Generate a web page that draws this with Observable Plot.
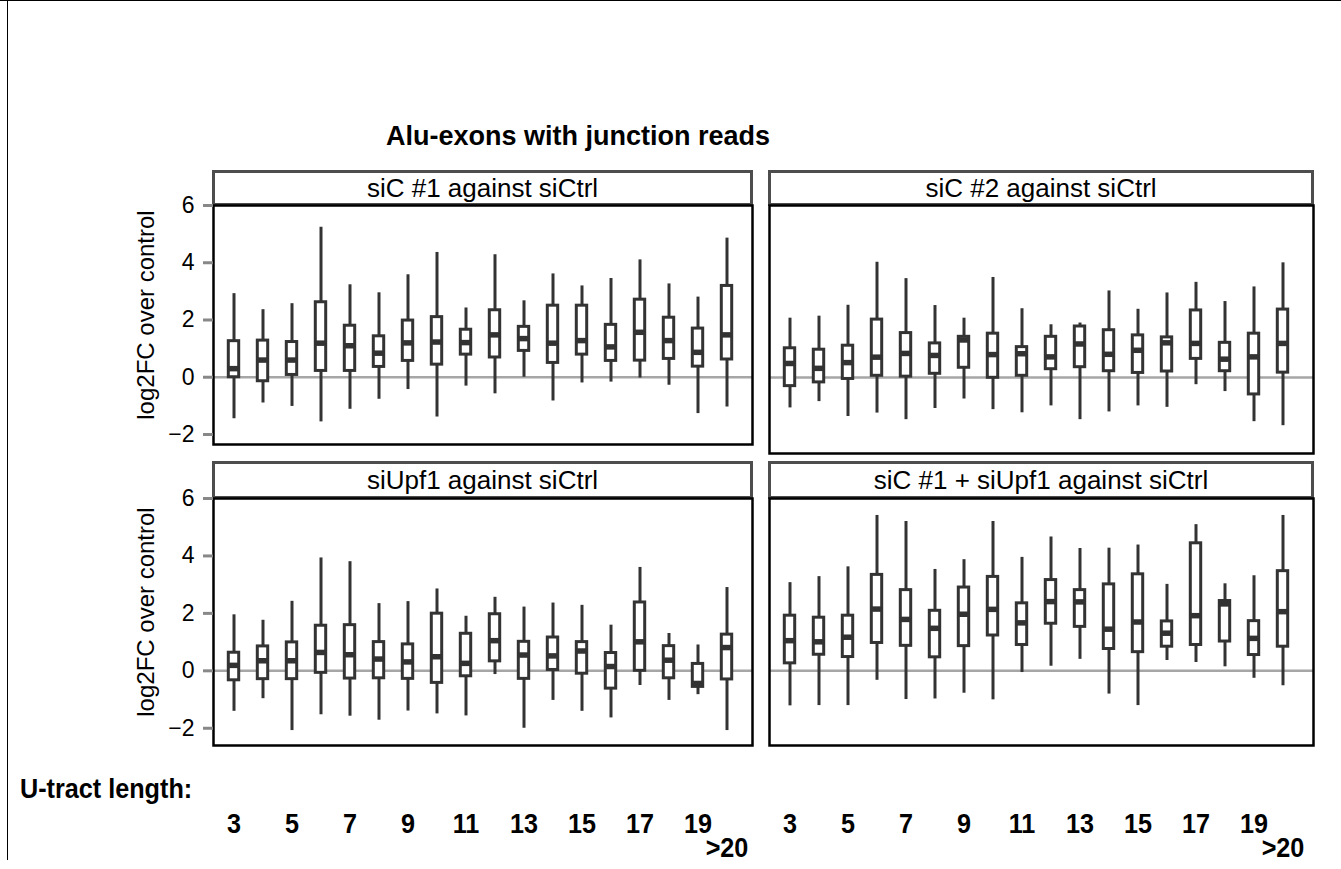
<!DOCTYPE html>
<html>
<head>
<meta charset="utf-8">
<script src="https://cdn.jsdelivr.net/npm/d3@7"></script>
<script src="https://cdn.jsdelivr.net/npm/@observablehq/plot@0.6"></script>
<style>
  body { margin: 0; background: #fff; font-family: "Liberation Sans", Arial, Helvetica, sans-serif; color: #000; }
  #page { position: relative; width: 1341px; height: 869px; overflow: hidden; background: #fff; }
  .edgeTop { position: absolute; left: 0; top: 0; width: 1341px; height: 0; border-top: 1.5px solid #000; }
  .edgeLeft { position: absolute; left: 7px; top: 0; width: 0; height: 860px; border-left: 1.5px solid #000; }
  .title { position: absolute; left: 0; width: 1156px; top: 121px; text-align: center; font-weight: bold; font-size: 27px; line-height: 31px; }
  .strip { position: absolute; box-sizing: border-box; border: 3px solid #4d4d4d; background: #fff; font-size: 26px; text-align: center; }
  .panel { position: absolute; }
  .xtitle { position: absolute; left: 20px; top: 773px; font-weight: bold; font-size: 28px; line-height: 32px;
            transform: scaleX(0.9); transform-origin: left center; }
</style>
</head>
<body>
<div id="page">
  <div class="edgeTop"></div>
  <div class="edgeLeft"></div>
  <div class="title">Alu-exons with junction reads</div>
  <div class="xtitle">U-tract length:</div>
</div>
<script>
// U-tract length categories (20 = ">20")
const uLengths = [3,4,5,6,7,8,9,10,11,12,13,14,15,16,17,18,19,20];
const oddTicks = [3,5,7,9,11,13,15,17,19];
const panelNames = ["siC #1 against siCtrl", "siC #2 against siCtrl", "siUpf1 against siCtrl", "siC #1 + siUpf1 against siCtrl"];
const yLabel = ["log2FC over control"];

// Panel 1: siC #1 against siCtrl
const p1Low = [-1.45,-0.9,-1.02,-1.56,-1.12,-0.77,-0.43,-1.39,-0.31,-0.58,0.0,-0.83,-0.2,-0.17,-0.03,-0.28,-1.27,-1.04];
const p1Q1  = [0.0,-0.14,0.08,0.22,0.22,0.36,0.57,0.44,0.79,0.69,0.92,0.5,0.79,0.57,0.58,0.64,0.37,0.62];
const p1Med = [0.3,0.6,0.6,1.19,1.1,0.84,1.2,1.23,1.21,1.48,1.35,1.19,1.28,1.06,1.57,1.28,0.87,1.48];
const p1Q3  = [1.26,1.28,1.23,2.62,1.8,1.43,1.98,2.1,1.66,2.34,1.76,2.5,2.5,1.83,2.71,2.08,1.7,3.19];
const p1High= [2.92,2.36,2.57,5.24,3.23,2.95,3.58,4.36,2.42,4.28,2.67,3.61,3.19,3.45,4.1,3.26,2.8,4.86];

// Panel 2: siC #2 against siCtrl
const p2Low = [-1.06,-0.84,-1.36,-1.24,-1.47,-1.08,-0.75,-1.12,-1.23,-0.99,-1.47,-1.2,-0.99,-1.04,-0.25,-0.49,-1.54,-1.68];
const p2Q1  = [-0.3,-0.17,-0.05,0.06,0.03,0.13,0.34,-0.01,0.06,0.29,0.36,0.22,0.16,0.21,0.65,0.22,-0.59,0.17];
const p2Med = [0.49,0.32,0.52,0.71,0.84,0.77,1.31,0.8,0.83,0.72,1.17,0.81,0.95,1.21,1.19,0.64,0.72,1.19];
const p2Q3  = [1.02,0.97,1.11,2.02,1.55,1.19,1.42,1.53,1.06,1.42,1.78,1.65,1.47,1.4,2.34,1.21,1.53,2.37];
const p2High= [2.07,2.14,2.52,4.02,3.45,2.51,2.07,3.49,2.4,1.84,1.9,3.02,2.38,2.95,3.32,2.65,3.16,4.0];

// Panel 3: siUpf1 against siCtrl
const p3Low = [-1.41,-0.97,-2.08,-1.53,-1.58,-1.72,-1.4,-1.5,-1.57,-0.13,-2.0,-1.03,-1.41,-1.64,-0.51,-1.03,-0.83,-2.08];
const p3Q1  = [-0.33,-0.29,-0.29,-0.07,-0.27,-0.26,-0.28,-0.42,-0.19,0.33,-0.28,0.03,-0.1,-0.62,0.0,-0.26,-0.56,-0.3];
const p3Med = [0.19,0.35,0.35,0.64,0.56,0.41,0.31,0.49,0.26,1.05,0.55,0.52,0.69,0.15,1.01,0.37,-0.44,0.81];
const p3Q3  = [0.63,0.85,0.99,1.57,1.59,1.0,0.92,1.99,1.29,1.97,1.01,1.16,1.0,0.62,2.38,0.86,0.24,1.26];
const p3High= [1.95,1.76,2.42,3.93,3.8,2.34,2.41,2.85,1.9,2.56,2.22,2.36,2.28,1.59,3.6,1.3,0.9,2.9];

// Panel 4: siC #1 + siUpf1 against siCtrl
const p4Low = [-1.22,-1.21,-1.21,-0.33,-1.0,-0.98,-0.78,-1.01,-0.06,0.16,0.4,-0.81,-1.21,0.36,0.29,0.14,-0.26,-0.52];
const p4Q1  = [0.26,0.56,0.48,0.97,0.87,0.47,0.86,1.23,0.9,1.64,1.53,0.76,0.65,0.84,0.9,1.02,0.55,0.84];
const p4Med = [1.05,1.01,1.17,2.15,1.79,1.48,1.97,2.14,1.67,2.41,2.4,1.45,1.7,1.31,1.92,2.33,1.13,2.06];
const p4Q3  = [1.92,1.85,1.92,3.34,2.81,2.09,2.9,3.27,2.35,3.16,2.81,3.01,3.36,1.72,4.44,2.43,1.73,3.47];
const p4High= [3.07,3.28,3.62,5.41,5.2,3.53,3.87,5.2,3.95,4.66,4.26,4.27,4.38,3.01,5.09,3.03,3.31,5.41];

const yTicks = [-2,0,2,4,6];

const series = [
  [p1Low,p1Q1,p1Med,p1Q3,p1High],
  [p2Low,p2Q1,p2Med,p2Q3,p2High],
  [p3Low,p3Q1,p3Med,p3Q3,p3High],
  [p4Low,p4Q1,p4Med,p4Q3,p4High]
];

// layout of the four panels (pixels) and their strips
const layout = [
  {col:0,row:0,left:213,top:205,w:539,h:239,yMin:-2.35,stripTop:170,stripH:36},
  {col:1,row:0,left:769,top:205,w:544,h:248,yMin:-2.65,stripTop:170,stripH:36},
  {col:0,row:1,left:213,top:498,w:539,h:247,yMin:-2.6,stripTop:461,stripH:38},
  {col:1,row:1,left:769,top:498,w:544,h:247,yMin:-2.6,stripTop:461,stripH:38}
];

const page = document.getElementById("page");

layout.forEach((L, k) => {
  const [lo,q1,md,q3,hi] = series[k];
  const rows = uLengths.map((u,i) => ({u, lo: lo[i], q1: q1[i], med: md[i], q3: q3[i], hi: hi[i]}));

  // strip
  const s = document.createElement("div");
  s.className = "strip";
  s.style.left = (L.left - 1) + "px";
  s.style.top = L.stripTop + "px";
  s.style.width = (L.w + 2) + "px";
  s.style.height = L.stripH + "px";
  s.style.lineHeight = (L.stripH - 6) + "px";
  s.textContent = panelNames[k];
  page.appendChild(s);

  const mL = L.col === 0 ? 110 : 10, mR = 10, mT = 5, mB = L.row === 1 ? 120 : 10;
  const marks = [
    Plot.ruleY([0], {stroke: "#a6a6a6", strokeWidth: 2.5}),
    Plot.ruleX(rows, {x: "u", y1: "lo", y2: "hi", stroke: "#333", strokeWidth: 3}),
    Plot.barY(rows, {x: "u", y1: "q1", y2: "q3", fill: "white", stroke: "#333", strokeWidth: 3, insetLeft: 9.3, insetRight: 9.3}),
    Plot.tickY(rows, {x: "u", y: "med", stroke: "#333", strokeWidth: 5.5, insetLeft: 9.3, insetRight: 9.3}),
    Plot.frame({stroke: "#000", strokeWidth: 2.5})
  ];
  if (L.col === 0) {
    marks.push(Plot.axisY({ticks: yTicks, tickSize: 10, tickPadding: 9, stroke: "#888", strokeWidth: 3,
      fontSize: 23, label: null}));
    marks.push(Plot.text(yLabel, {frameAnchor: "left", rotate: -90, dx: -67, dy: -10,
      textAnchor: "middle", lineAnchor: "middle", fontSize: 24, fill: "#000"}));
  }
  if (L.row === 1) {
    marks.push(Plot.axisX({ticks: oddTicks, tickSize: 0, tickPadding: 68, label: null,
      fontSize: 28, fontWeight: "bold"}));
    marks.push(Plot.axisX({ticks: [20], tickFormat: () => ">20", tickSize: 0, tickPadding: 92, label: null,
      fontSize: 28, fontWeight: "bold"}));
  }

  const chart = Plot.plot({
    width: L.w + mL + mR,
    height: L.h + mT + mB,
    marginLeft: mL, marginRight: mR, marginTop: mT, marginBottom: mB,
    style: {background: "transparent", overflow: "visible", fontFamily: "'Liberation Sans', Arial, sans-serif", color: "#000", maxWidth: "none"},
    x: {type: "band", domain: uLengths, paddingInner: 0, paddingOuter: 0, insetLeft: 3.4, insetRight: L.w - 529.6, axis: null},
    y: {domain: [L.yMin, 6], axis: null},
    marks
  });
  // condense the bold x tick labels horizontally (narrow bold face in the reference)
  chart.querySelectorAll('g[aria-label="x-axis tick label"] text').forEach(t => {
    const tr = t.getAttribute("transform") || "";
    t.setAttribute("transform", tr + " scale(0.9,1)");
  });
  const d = document.createElement("div");
  d.className = "panel";
  d.style.left = (L.left - mL) + "px";
  d.style.top = (L.top - mT) + "px";
  d.appendChild(chart);
  page.appendChild(d);
});
</script>
</body>
</html>
